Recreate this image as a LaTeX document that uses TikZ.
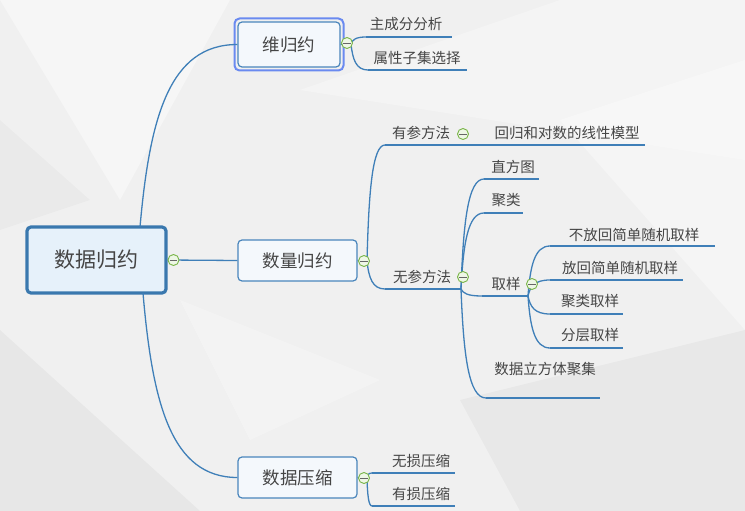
\documentclass[tikz,border=0pt]{standalone}
\usepackage{fontspec}
\setmainfont{Noto Sans CJK SC}
\usetikzlibrary{calc}
\definecolor{bgc}{HTML}{F0F0F0}
\definecolor{linec}{HTML}{3F7FB8}
\definecolor{txtc}{HTML}{454545}
\definecolor{rootbd}{HTML}{3A78AE}
\definecolor{rootfill}{HTML}{E6F1FA}
\definecolor{l1bd}{HTML}{4A86BC}
\definecolor{l1fill}{HTML}{F4F8FC}
\definecolor{selc}{HTML}{6A8AF0}
\definecolor{togc}{HTML}{79B548}
\definecolor{togfill}{HTML}{EEF7E6}
\newcommand\mmconn[2]{\draw[conn] let \p1=(#1), \p2=(#2) in (\p1) .. controls ({\x1+0.1*(\x2-\x1)},{\y1+0.6*(\y2-\y1)}) and ({\x1+0.3*(\x2-\x1)},{\y2}) .. (\p2);}
\newcommand\mmtog[3]{\node[tog] (#1) at (#2,#3) {};\draw[togminus] ([xshift=2.4pt]#1.west) -- ([xshift=-2.4pt]#1.east);}
\begin{document}
\begin{tikzpicture}[x=1pt,y=-1pt,
  conn/.style={draw=linec,line width=1.3pt},
  uline/.style={draw=linec,line width=1.3pt},
  rootbox/.style={draw=rootbd,fill=rootfill,line width=3.2pt,rounded corners=4pt,font=\fontsize{21}{24}\selectfont,text=txtc,inner sep=0pt},
  lonebox/.style={draw=l1bd,fill=l1fill,line width=1.2pt,rounded corners=4pt,font=\fontsize{17.5}{20}\selectfont,text=txtc,inner sep=0pt},
  leaf/.style={font=\fontsize{14.5}{17}\selectfont,text=txtc,inner sep=0pt},
  tog/.style={circle,draw=togc,fill=togfill,line width=0.9pt,minimum size=11pt,inner sep=0pt},
  togminus/.style={draw=black!60,line width=0.9pt}]
\useasboundingbox (0,0) rectangle (745,511);
\fill[bgc] (0,0) rectangle (745,511);
% faint background facets
\fill[white,opacity=0.4] (0,0) -- (230,0) -- (120,200) -- cycle;
\fill[white,opacity=0.3] (300,90) -- (560,0) -- (745,0) -- (745,160) -- cycle;
\fill[black,opacity=0.035] (0,330) -- (200,511) -- (0,511) -- cycle;
\fill[white,opacity=0.35] (560,120) -- (745,60) -- (745,330) -- cycle;
\fill[black,opacity=0.03] (460,400) -- (745,330) -- (745,511) -- (520,511) -- cycle;
\fill[white,opacity=0.25] (180,300) -- (380,380) -- (250,440) -- cycle;
\fill[black,opacity=0.025] (0,120) -- (90,200) -- (0,230) -- cycle;

% main nodes
\node[rootbox,minimum width=139pt,minimum height=66pt] (root) at (96.5,260) {数据归约};
\node[lonebox,minimum width=102pt,minimum height=45pt] (wei) at (289,44.5) {维归约};
\draw[selc,line width=2pt,rounded corners=5pt] (234.5,18.5) rectangle (343.5,70.5);
\node[lonebox,minimum width=119pt,minimum height=41pt] (shu) at (297.5,260.5) {数量归约};
\node[lonebox,minimum width=119pt,minimum height=41pt] (ya) at (297.5,477.5) {数据压缩};

% root connectors
\coordinate (rtop) at (140,227);
\coordinate (rbot) at (143,293);
\mmconn{rtop}{wei.west}
\mmconn{rbot}{ya.west}
\draw[conn] (root.east) -- (shu.west);
\mmtog{t0}{173.5}{260}

% 维归约 branch
\draw[conn] (wei.east) -- (347,44);
\coordinate (weiS) at (351,44);
\node[leaf] (zcf) at (406,24) {主成分分析};
\node[leaf] (sxz) at (417,58) {属性子集选择};
\coordinate (zcfL) at (366,37); \coordinate (zcfR) at (452,37);
\coordinate (sxzL) at (368,70); \coordinate (sxzR) at (467,70);
\mmconn{weiS}{zcfL}
\mmconn{weiS}{sxzL}
\draw[uline] (zcfL) -- (zcfR);
\draw[uline] (sxzL) -- (sxzR);
\mmtog{t1}{347}{43}

% 数量归约 branch
\draw[conn] (shu.east) -- (366,261);
\coordinate (shuS) at (367,261);
\node[leaf] (ycf) at (421,133) {有参方法};
\node[leaf] (hg) at (567,133) {回归和对数的线性模型};
\node[leaf] (wcf) at (422,277) {无参方法};
\coordinate (ycfL) at (385,145); \coordinate (ycfR) at (470,145);
\coordinate (hgL) at (470,145); \coordinate (hgR) at (645,145);
\coordinate (wcfL) at (385,289); \coordinate (wcfR) at (461,289);
\mmconn{shuS}{ycfL}
\mmconn{shuS}{wcfL}
\draw[uline] (ycfL) -- (ycfR);
\draw[conn] (ycfR) -- (hgL);
\draw[uline] (hgL) -- (hgR);
\draw[uline] (wcfL) -- (wcfR);

% 无参方法 children
\node[leaf] (zft) at (513,167) {直方图};
\node[leaf] (jl) at (506,200) {聚类};
\node[leaf] (qy) at (506,284) {取样};
\node[leaf] (sjlft) at (545,369) {数据立方体聚集};
\coordinate (zftL) at (484,179); \coordinate (zftR) at (539,179);
\coordinate (jlL) at (484,213); \coordinate (jlR) at (523,213);
\coordinate (qyL) at (482,296); \coordinate (qyR) at (528,296);
\coordinate (sjL) at (486,398); \coordinate (sjR) at (600,398);
\mmconn{wcfR}{zftL}
\mmconn{wcfR}{jlL}
\mmconn{wcfR}{qyL}
\mmconn{wcfR}{sjL}
\draw[uline] (zftL) -- (zftR);
\draw[uline] (jlL) -- (jlR);
\draw[uline] (qyL) -- (qyR);
\draw[uline] (sjL) -- (sjR);

% 取样 children
\node[leaf] (bfh) at (634,235) {不放回简单随机取样};
\node[leaf] (fh) at (620,268) {放回简单随机取样};
\node[leaf] (jlqy) at (590,301) {聚类取样};
\node[leaf] (fcqy) at (590,335) {分层取样};
\coordinate (bfhL) at (550,246); \coordinate (bfhR) at (715,246);
\coordinate (fhL) at (550,280); \coordinate (fhR) at (683,280);
\coordinate (jlqyL) at (550,314); \coordinate (jlqyR) at (623,314);
\coordinate (fcqyL) at (550,348); \coordinate (fcqyR) at (623,348);
\mmconn{qyR}{bfhL}
\mmconn{qyR}{fhL}
\mmconn{qyR}{jlqyL}
\mmconn{qyR}{fcqyL}
\draw[uline] (bfhL) -- (bfhR);
\draw[uline] (fhL) -- (fhR);
\draw[uline] (jlqyL) -- (jlqyR);
\draw[uline] (fcqyL) -- (fcqyR);

% 数据压缩 branch
\draw[conn] (ya.east) -- (366,478);
\coordinate (yaS) at (367,478);
\node[leaf] (wsys) at (421,461) {无损压缩};
\node[leaf] (ysys) at (421,494) {有损压缩};
\coordinate (wsL) at (372,473); \coordinate (wsR) at (455,473);
\coordinate (ysL) at (372,506); \coordinate (ysR) at (455,506);
\mmconn{yaS}{wsL}
\mmconn{yaS}{ysL}
\draw[uline] (wsL) -- (wsR);
\draw[uline] (ysL) -- (ysR);

% toggles
\mmtog{t2}{364}{261}
\mmtog{t3}{463}{134}
\mmtog{t4}{463}{277}
\mmtog{t5}{532}{284}
\mmtog{t6}{364}{478}
\end{tikzpicture}
\end{document}
